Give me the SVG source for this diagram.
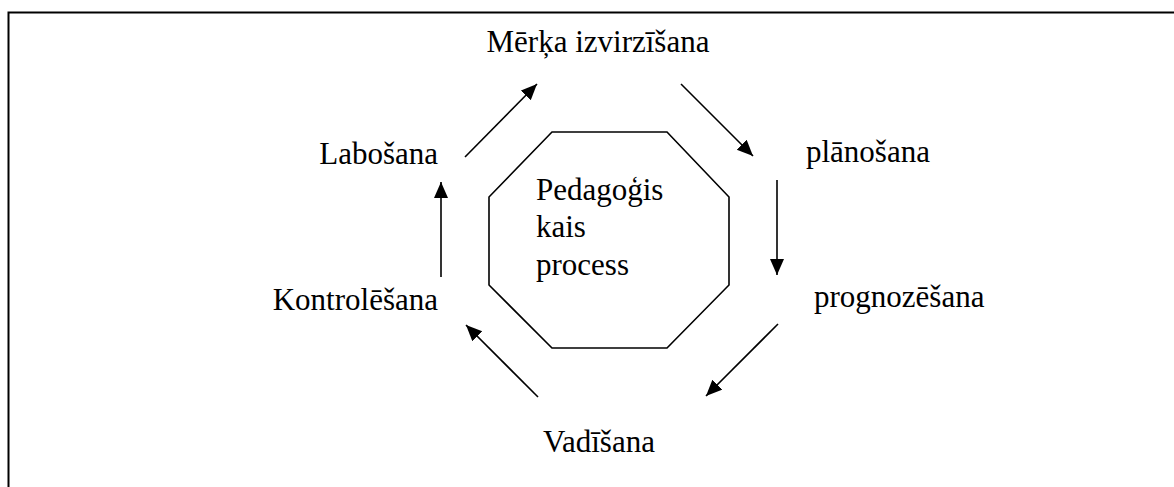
<svg xmlns="http://www.w3.org/2000/svg" width="1174" height="487" viewBox="0 0 1174 487" font-family="'Liberation Serif', 'DejaVu Serif', serif" font-size="31">
<style>
text{font-family:'Liberation Serif','DejaVu Serif',serif;font-size:31px;fill:#000}
.c{stroke:#000;stroke-width:1.6;fill:none;marker-end:url(#ah)}
.frame{stroke:#000;stroke-width:2;fill:none}
</style>
<defs>
<marker id="ah" markerUnits="userSpaceOnUse" markerWidth="18" markerHeight="16" refX="16" refY="7" orient="auto">
<path d="M0,0 L16,7 L0,14 Z" fill="#000"/>
</marker>
</defs>
<rect width="1174" height="487" fill="#fff"/>
<path class="frame" d="M8.5,487 V12.5 H1174"/>
<g id="center">
<polygon points="552,132 667,132 729,197 729,285 667,348 552,348 489,285 489,197" fill="none" stroke="#000" stroke-width="1.6"/>
<text x="536" y="200">Pedagoģis</text>
<text x="536" y="237">kais</text>
<text x="536" y="275">process</text>
</g>
<g id="merka"><text x="598" y="52" text-anchor="middle">Mērķa izvirzīšana</text></g>
<g id="planosana"><text x="806" y="162">plānošana</text></g>
<g id="prognozesana"><text x="814" y="307">prognozēšana</text></g>
<g id="vadisana"><text x="599" y="452" text-anchor="middle">Vadīšana</text></g>
<g id="kontrolesana"><text x="438" y="310" text-anchor="end">Kontrolēšana</text></g>
<g id="labosana"><text x="438" y="164" text-anchor="end">Labošana</text></g>
<g id="connectors">
<line class="c" x1="465" y1="157" x2="537" y2="84"/>
<line class="c" x1="681" y1="84" x2="753" y2="156"/>
<line class="c" x1="777" y1="180" x2="777" y2="275"/>
<line class="c" x1="778" y1="324" x2="706" y2="396"/>
<line class="c" x1="538" y1="397" x2="466" y2="325"/>
<line class="c" x1="441" y1="277" x2="441" y2="182"/>
</g>
</svg>
